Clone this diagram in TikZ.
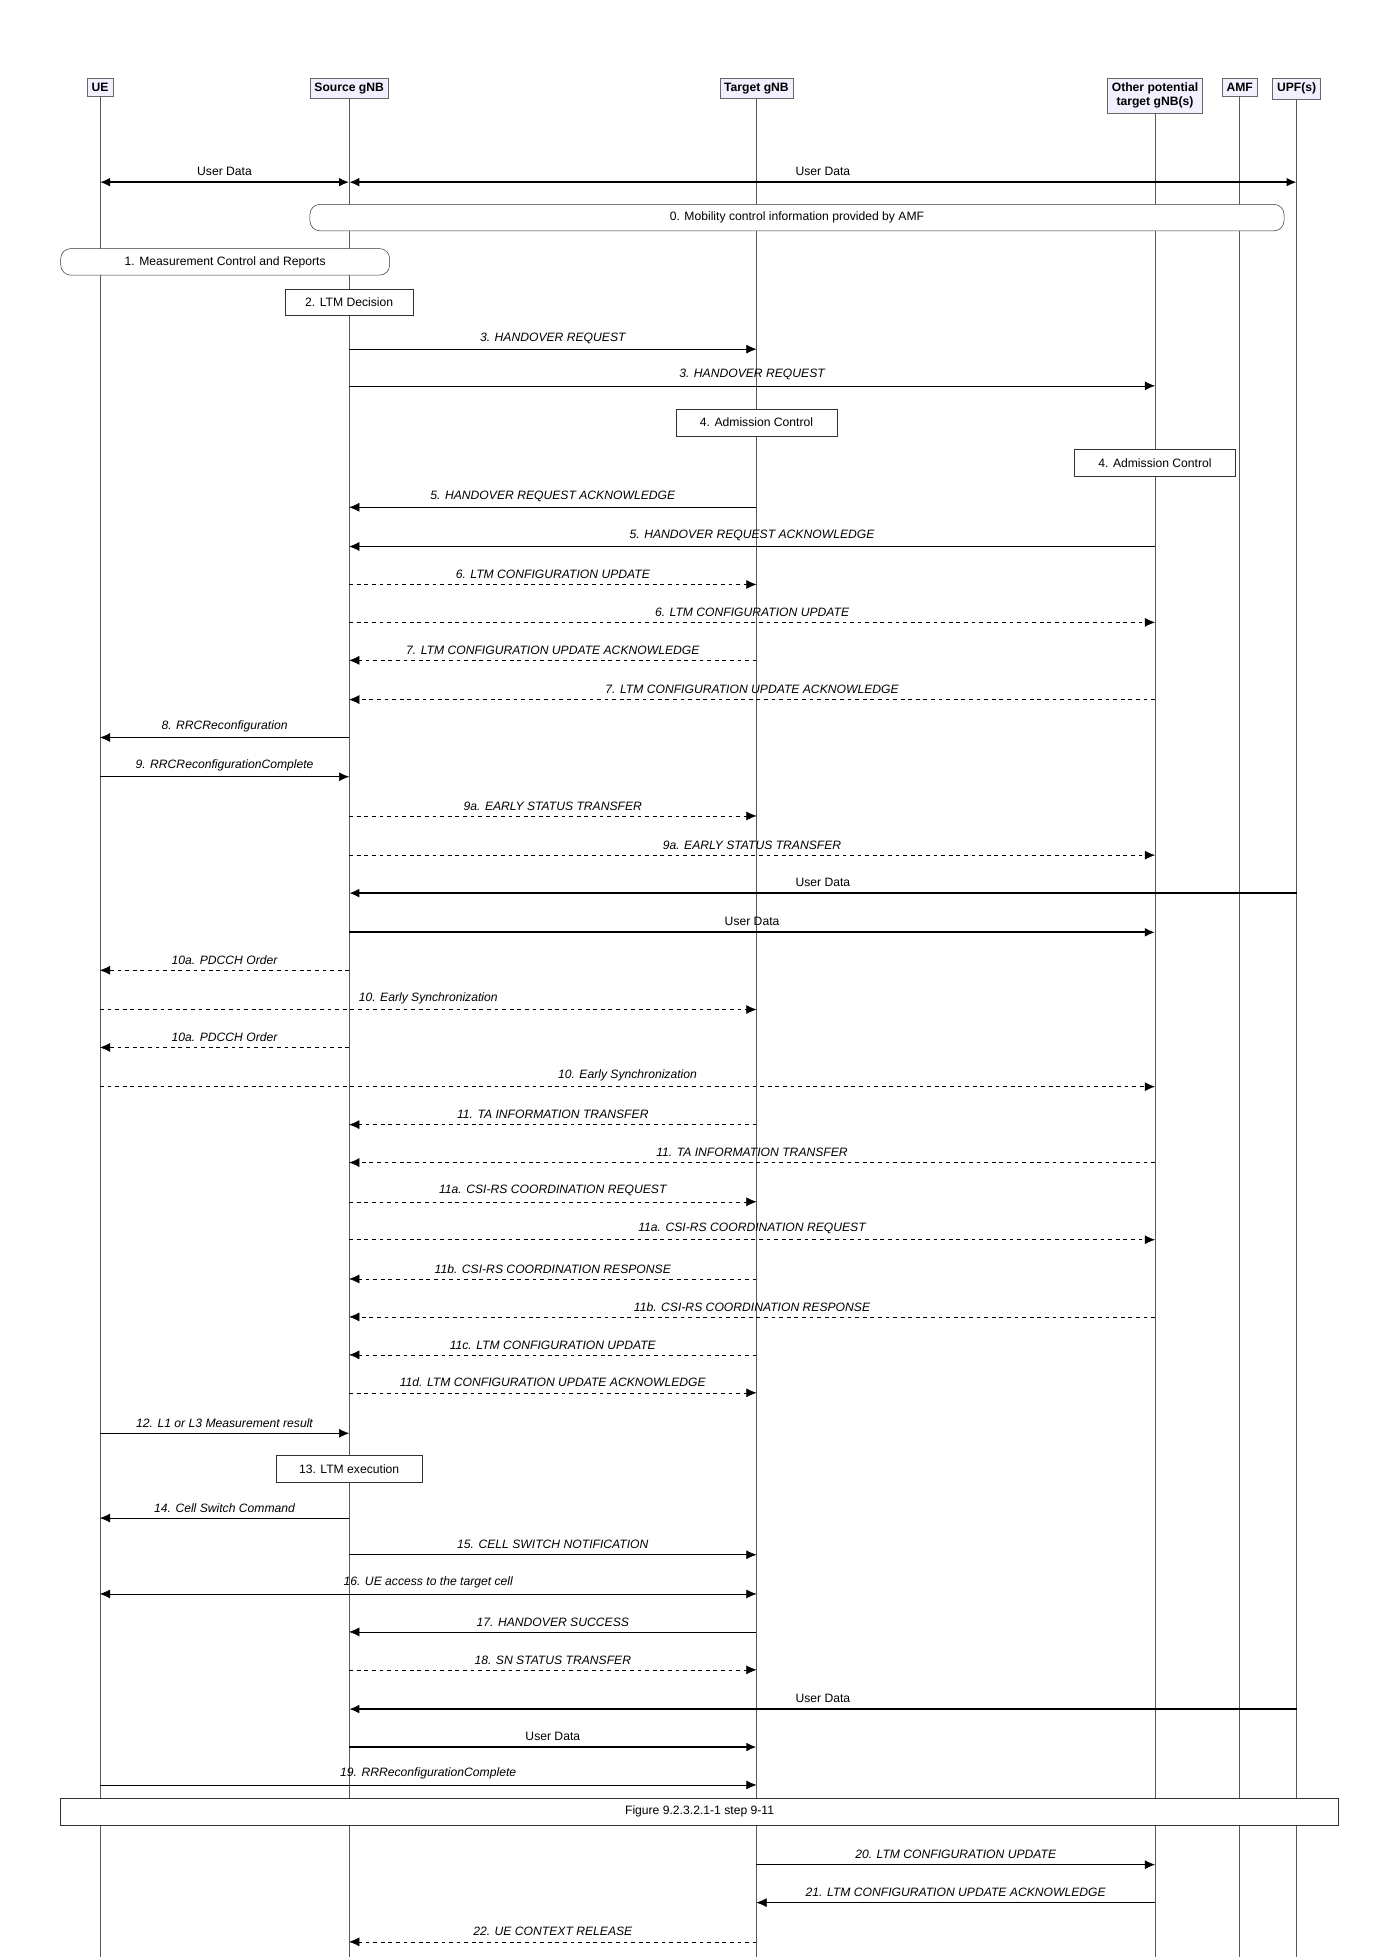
\documentclass[tikz,border=0pt]{standalone}
\usepackage{fontspec}
\setmainfont{Liberation Sans}
\usetikzlibrary{calc}
\usetikzlibrary{arrows,arrows.meta}
\begin{document}
\begin{tikzpicture}[x=1pt,y=-1pt,font=\fontsize{9.6}{11}\selectfont,
    >={Latex[length=8pt,width=7pt]},
    entity/.style={draw=gray!80!black,fill=blue!6,font=\fontsize{9.6}{11}\selectfont\bfseries,inner sep=3.5pt,align=center},
    stepbox/.style={draw=black!80,fill=white,inner sep=0pt,minimum height=21pt},
    lifeline/.style={gray!70!black,thin},
    msg/.style={->,black,thin},
    dmsg/.style={->,black,thin,dashed},
    mlabel/.style={midway,above=1pt,font=\fontsize{9.6}{11}\selectfont\itshape}]
\useasboundingbox (0,0) rectangle (1100,1547);
\node[entity,anchor=north] (ue) at (79,62) {UE};
\node[entity,anchor=north] (src) at (276,62) {Source gNB};
\node[entity,anchor=north] (tgt) at (598,62) {Target gNB};
\node[entity,anchor=north] (oth) at (913,62) {Other potential\\target gNB(s)};
\node[entity,anchor=north] (amf) at (980,62) {AMF};
\node[entity,anchor=north] (upf) at (1025,62) {UPF(s)};
\foreach \n in {ue,src,tgt,oth,amf,upf}
    \draw[lifeline] (\n.south) -- (\n |- 0,1547);

\newcommand{\msgline}[5]{
    \coordinate (a) at (#1 |- 0,#3);
    \coordinate (b) at (#2 |- 0,#3);
    \draw[#5] (a) -- (b) node[mlabel] {#4};
}
\newcommand{\userdata}[3]{
    \coordinate (a) at (#1 |- 0,#3);
    \coordinate (b) at (#2 |- 0,#3);
    \draw[->,line width=1.5pt] (a) -- (b) node[midway,above=1pt] {User Data};
}

% user plane
\coordinate (a) at (ue |- 0,144);
\coordinate (b) at (src |- 0,144);
\draw[<->,line width=1.5pt] (a) -- (b) node[midway,above=1pt] {User Data};
\coordinate (c) at (upf |- 0,144);
\draw[<->,line width=1.5pt] (b) -- (c) node[midway,above=1pt] {User Data};

% steps 0-2
\node[stepbox,rounded corners=8pt,minimum width=770pt] (s0) at (630,172) {0. Mobility control information provided by AMF};
\node[stepbox,rounded corners=8pt,minimum width=260pt] (s1) at (178,207) {1. Measurement Control and Reports};
\node[stepbox,minimum width=101pt] (s2) at (src |- 0,239) {2. LTM Decision};

\msgline{src}{tgt}{276}{3. HANDOVER REQUEST}{msg}
\msgline{src}{oth}{305}{3. HANDOVER REQUEST}{msg}
\node[stepbox,minimum width=127pt] (s4a) at (tgt |- 0,334) {4. Admission Control};
\node[stepbox,minimum width=127pt] (s4b) at (oth |- 0,366) {4. Admission Control};
\msgline{tgt}{src}{401}{5. HANDOVER REQUEST ACKNOWLEDGE}{msg}
\msgline{oth}{src}{432}{5. HANDOVER REQUEST ACKNOWLEDGE}{msg}
\msgline{src}{tgt}{462}{6. LTM CONFIGURATION UPDATE}{dmsg}
\msgline{src}{oth}{492}{6. LTM CONFIGURATION UPDATE}{dmsg}
\msgline{tgt}{src}{522}{7. LTM CONFIGURATION UPDATE ACKNOWLEDGE}{dmsg}
\msgline{oth}{src}{553}{7. LTM CONFIGURATION UPDATE ACKNOWLEDGE}{dmsg}
\msgline{src}{ue}{583}{8. RRCReconfiguration}{msg}
\msgline{ue}{src}{614}{9. RRCReconfigurationComplete}{msg}
\msgline{src}{tgt}{645}{9a. EARLY STATUS TRANSFER}{dmsg}
\msgline{src}{oth}{676}{9a. EARLY STATUS TRANSFER}{dmsg}
\userdata{upf}{src}{706}
\userdata{src}{oth}{737}
\msgline{src}{ue}{767}{10a. PDCCH Order}{dmsg}
\msgline{ue}{tgt}{798}{10. Early Synchronization}{dmsg}
\msgline{src}{ue}{828}{10a. PDCCH Order}{dmsg}
\msgline{ue}{oth}{859}{10. Early Synchronization}{dmsg}
\msgline{tgt}{src}{889}{11. TA INFORMATION TRANSFER}{dmsg}
\msgline{oth}{src}{919}{11. TA INFORMATION TRANSFER}{dmsg}
\msgline{src}{tgt}{950}{11a. CSI-RS COORDINATION REQUEST}{dmsg}
\msgline{src}{oth}{980}{11a. CSI-RS COORDINATION REQUEST}{dmsg}
\msgline{tgt}{src}{1011}{11b. CSI-RS COORDINATION RESPONSE}{dmsg}
\msgline{oth}{src}{1041}{11b. CSI-RS COORDINATION RESPONSE}{dmsg}
\msgline{tgt}{src}{1071}{11c. LTM CONFIGURATION UPDATE}{dmsg}
\msgline{src}{tgt}{1101}{11d. LTM CONFIGURATION UPDATE ACKNOWLEDGE}{dmsg}
\msgline{ue}{src}{1133}{12. L1 or L3 Measurement result}{msg}
\node[stepbox,minimum width=116pt] (s13) at (src |- 0,1161) {13. LTM execution};
\msgline{src}{ue}{1200}{14. Cell Switch Command}{msg}
\msgline{src}{tgt}{1229}{15. CELL SWITCH NOTIFICATION}{msg}
\msgline{ue}{tgt}{1260}{16. UE access to the target cell}{<->,thin}
\msgline{tgt}{src}{1290}{17. HANDOVER SUCCESS}{msg}
\msgline{src}{tgt}{1320}{18. SN STATUS TRANSFER}{dmsg}
\userdata{upf}{src}{1351}
\userdata{src}{tgt}{1381}
\msgline{ue}{tgt}{1411}{19. RRReconfigurationComplete}{msg}
\node[stepbox,minimum width=1010pt] (fig) at (553,1432) {Figure 9.2.3.2.1-1 step 9-11};
\msgline{tgt}{oth}{1474}{20. LTM CONFIGURATION UPDATE}{msg}
\msgline{oth}{tgt}{1504}{21. LTM CONFIGURATION UPDATE ACKNOWLEDGE}{msg}
\msgline{tgt}{src}{1535}{22. UE CONTEXT RELEASE}{dmsg}
\end{tikzpicture}
\end{document}
